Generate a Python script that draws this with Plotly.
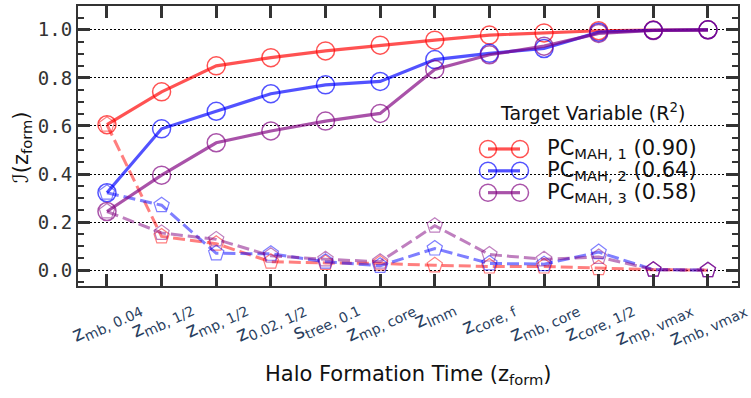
import plotly.graph_objects as go

# Formation-time definitions along the x axis
categories = [
    "z<sub>mb, 0.04</sub>", "z<sub>mb, 1/2</sub>", "z<sub>mp, 1/2</sub>",
    "z<sub>0.02, 1/2</sub>", "s<sub>tree, 0.1</sub>", "z<sub>mp, core</sub>",
    "z<sub>lmm</sub>", "z<sub>core, f</sub>", "z<sub>mb, core</sub>",
    "z<sub>core, 1/2</sub>", "z<sub>mp, vmax</sub>", "z<sub>mb, vmax</sub>",
]

# Cumulative information (solid lines)
pc1_cum = [0.605, 0.742, 0.850, 0.884, 0.912, 0.936, 0.957, 0.978, 0.987, 0.996, 0.999, 1.000]
pc2_cum = [0.322, 0.588, 0.661, 0.734, 0.771, 0.785, 0.876, 0.902, 0.922, 0.990, 0.998, 1.000]
pc3_cum = [0.244, 0.395, 0.530, 0.579, 0.620, 0.652, 0.835, 0.896, 0.932, 0.985, 0.997, 1.000]

# Individual information (dashed lines)
pc1_ind = [0.605, 0.140, 0.110, 0.035, 0.030, 0.028, 0.020, 0.015, 0.015, 0.008, 0.002, 0.000]
pc2_ind = [0.322, 0.270, 0.070, 0.068, 0.035, 0.018, 0.090, 0.028, 0.025, 0.075, 0.002, 0.000]
pc3_ind = [0.244, 0.155, 0.128, 0.060, 0.045, 0.035, 0.185, 0.065, 0.045, 0.055, 0.002, 0.000]

series_names = ["MAH, 1", "MAH, 2", "MAH, 3"]
r2_scores = ["0.90", "0.64", "0.58"]

solid_colors = ["rgba(255,0,0,0.68)", "rgba(0,0,255,0.68)", "rgba(128,0,128,0.68)"]
dash_colors = ["rgba(255,0,0,0.5)", "rgba(0,0,255,0.5)", "rgba(128,0,128,0.5)"]

xs = list(range(len(categories)))
Y_MIN, Y_MAX = -0.066, 1.099

fig = go.Figure()

for vals, col in zip([pc1_ind, pc2_ind, pc3_ind], dash_colors):
    fig.add_trace(go.Scatter(
        x=xs, y=vals, mode="lines+markers", showlegend=False,
        line=dict(color=col, width=3, dash="12px,5px"),
        marker=dict(symbol="pentagon-open", size=16, color=col, line=dict(width=1.2, color=col)),
    ))

for vals, col in zip([pc1_cum, pc2_cum, pc3_cum], solid_colors):
    fig.add_trace(go.Scatter(
        x=xs, y=vals, mode="lines+markers", showlegend=False,
        line=dict(color=col, width=3.2),
        marker=dict(symbol="circle-open", size=18, color=col, line=dict(width=1.5, color=col)),
    ))

# plot-area geometry in pixels (for placing the legend block)
L, R, T, B = 78, 738, 4, 286
W_PX, H_PX = R - L, B - T


def px_x(p):
    return (p - L) / W_PX


def px_y(p):
    return (B - p) / H_PX


annotations = []

# tilted category labels under the axis
for i, lab in enumerate(categories):
    annotations.append(dict(
        x=i, y=0, xref="x", yref="paper", text=lab, showarrow=False,
        textangle=-25, yanchor="top", yshift=-5,
        font=dict(family="DejaVu Sans", size=20),
    ))

annotations.append(dict(
    x=0.5, y=px_y(376), xref="paper", yref="paper",
    text="Halo Formation Time (z<sub>form</sub>)", showarrow=False,
    xanchor="center", yanchor="middle",
    font=dict(family="DejaVu Sans", size=21, color="#111"),
))
annotations.append(dict(
    x=px_x(22), y=px_y(146), xref="paper", yref="paper",
    text="ℐ(z<sub>form</sub>)", showarrow=False, textangle=-90,
    xanchor="center", yanchor="middle",
    font=dict(family="DejaVu Sans", size=21, color="#111"),
))

# legend block: glyphs on an overlay axis spanning the plot area, text as annotations
annotations.append(dict(
    x=px_x(592), y=px_y(111), xref="paper", yref="paper",
    text="Target Variable (R<sup>2</sup>)", showarrow=False,
    xanchor="center", yanchor="middle",
    font=dict(family="DejaVu Sans", size=19, color="#111"),
))
for k, (name, r2, col) in enumerate(zip(series_names, r2_scores, solid_colors)):
    yp = px_y(148 + 22 * k)
    fig.add_trace(go.Scatter(
        x=[px_x(488), px_x(520)], y=[yp, yp], xaxis="x2", yaxis="y2",
        mode="lines+markers", showlegend=False, hoverinfo="skip",
        line=dict(color=col, width=3.2),
        marker=dict(symbol="circle-open", size=17, color=col, line=dict(width=1.5, color=col)),
    ))
    annotations.append(dict(
        x=px_x(545), y=yp, xref="paper", yref="paper",
        text=f"PC<sub>{name}</sub> ({r2})", showarrow=False,
        xanchor="left", yanchor="middle",
        font=dict(family="DejaVu Sans", size=21, color="#111"),
    ))

axis_col = "#333"

fig.update_layout(
    width=751, height=398,
    margin=dict(l=L, r=751 - R, t=T, b=398 - B),
    plot_bgcolor="white", paper_bgcolor="white",
    annotations=annotations,
    xaxis=dict(
        range=[-0.53, 11.55], tickvals=xs, showticklabels=False,
        ticks="inside", ticklen=12, tickwidth=2.5, tickcolor=axis_col,
        showline=True, linecolor=axis_col, linewidth=2, mirror="allticks",
        showgrid=False, zeroline=False,
    ),
    yaxis=dict(
        range=[Y_MIN, Y_MAX], tickvals=[0, 0.2, 0.4, 0.6, 0.8, 1.0], tickformat=".1f",
        ticks="inside", ticklen=12, tickwidth=2.5, tickcolor=axis_col,
        showline=True, linecolor=axis_col, linewidth=2, mirror="allticks",
        showgrid=True, gridcolor="black", gridwidth=1, griddash="2px,2px",
        zeroline=False,
        tickfont=dict(family="DejaVu Sans Mono", size=19, color="#333"),
        minor=dict(dtick=0.05, tick0=0, ticks="inside", ticklen=6, tickwidth=1.5,
                   tickcolor=axis_col, showgrid=False),
    ),
    xaxis2=dict(overlaying="x", range=[0, 1], visible=False, fixedrange=True),
    yaxis2=dict(overlaying="y", range=[0, 1], visible=False, fixedrange=True),
)

fig.write_html("out.html")
